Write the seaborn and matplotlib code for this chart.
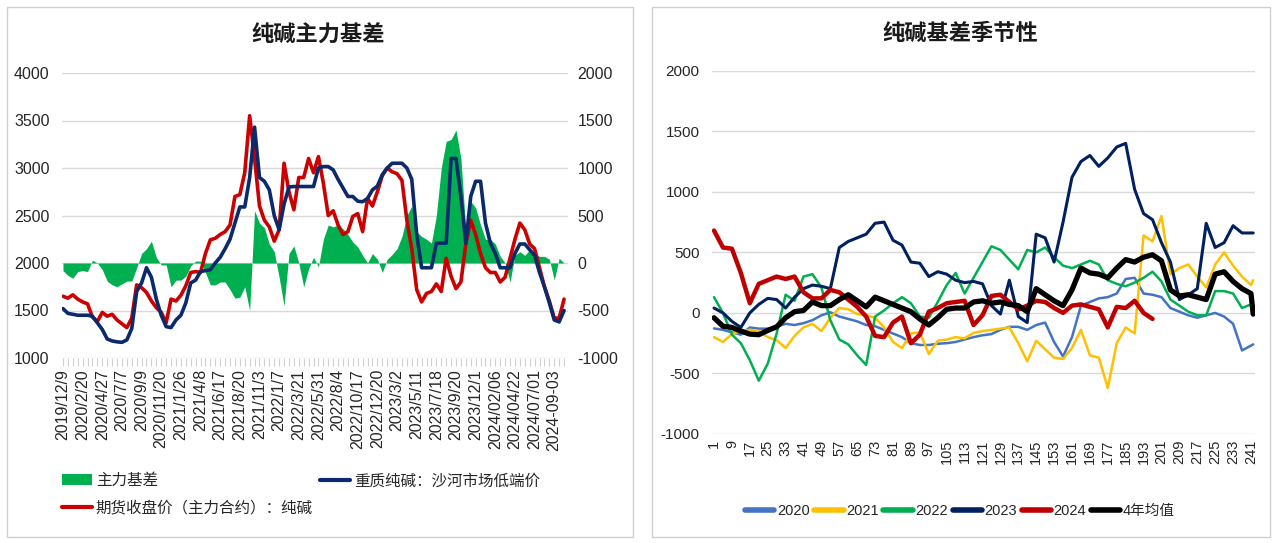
import numpy as np
import pandas as pd
import matplotlib
matplotlib.use("Agg")
import matplotlib.pyplot as plt
from matplotlib.patches import Rectangle
from matplotlib.lines import Line2D
from matplotlib.patches import Patch
import seaborn as sns

# ---------------- data: left chart (sampled trading-day points) ----------------
date_labels = ["2019/12/9", "2020/2/20", "2020/4/27", "2020/7/7", "2020/9/9", "2020/11/20",
               "2021/1/26", "2021/4/8", "2021/6/17", "2021/8/20", "2021/11/3", "2022/1/7",
               "2022/3/21", "2022/5/31", "2022/8/4", "2022/10/17", "2022/12/20", "2023/3/2",
               "2023/5/11", "2023/7/18", "2023/9/20", "2023/12/1", "2024/02/06", "2024/04/22",
               "2024/07/01", "2024-09-03"]

spot = [1520, 1470, 1460, 1450, 1450, 1450, 1440, 1370, 1300, 1200,
        1180, 1170, 1165, 1190, 1310, 1700, 1790, 1950, 1850, 1620,
        1450, 1330, 1320, 1400, 1450, 1580, 1790, 1820, 1910, 1920,
        1930, 2000, 2060, 2150, 2250, 2420, 2590, 2590, 2900, 3430,
        2900, 2860, 2770, 2500, 2350, 2620, 2800, 2805, 2805, 2805,
        2805, 2805, 3000, 3015, 3015, 2980, 2880, 2790, 2700, 2700,
        2650, 2645, 2680, 2770, 2810, 2930, 3000, 3050, 3050, 3050,
        3000, 2880, 2300, 1950, 1950, 1950, 2209, 2209, 2209, 3100,
        3100, 2700, 2209, 2700, 2860, 2860, 2420, 2209, 2100, 1950,
        1950, 1950, 2100, 2200, 2200, 2140, 2080, 1900, 1750, 1580,
        1400, 1380, 1500]

futures = [1650, 1630, 1665, 1620, 1590, 1570, 1430, 1385, 1480, 1440,
           1460, 1400, 1360, 1320, 1420, 1770, 1740, 1690, 1600, 1530,
           1480, 1370, 1620, 1600, 1660, 1760, 1900, 1910, 1900, 2100,
           2244, 2260, 2300, 2330, 2400, 2700, 2720, 2950, 3550, 3100,
           2600, 2450, 2380, 2230, 2350, 3050, 2750, 2560, 2900, 2900,
           3100, 2950, 3120, 2840, 2500, 2550, 2400, 2300, 2330, 2490,
           2520, 2330, 2680, 2600, 2750, 2920, 3000, 2960, 2940, 2870,
           2450, 2150, 1720, 1590, 1680, 1700, 1780, 1700, 2050, 1860,
           1730, 1800, 2200, 2450, 2300, 2100, 1950, 1900, 1900, 1800,
           1850, 2050, 2250, 2420, 2350, 2200, 2150, 1950, 1750, 1600,
           1420, 1420, 1620]

basis = [-80, -130, -160, -90, -80, -90, 30, 0, -70, -190,
         -230, -250, -220, -190, -190, -50, 100, 150, 230, 60,
         -20, -20, -250, -180, -180, -140, -30, 20, 20, -100,
         -230, -230, -200, -200, -280, -370, -360, -250, -500, 550,
         420, 370, 200, 120, -150, -450, 100, 180, 0, -250,
         -60, 60, -40, 250, 400, 380, 400, 360, 300, 220,
         170, 80, 0, 100, 40, -100, 40, 90, 150, 280,
         500, 600, 330, 280, 250, 210, 500, 1000, 1280, 1300,
         1400, 1100, 350, 650, 580, 400, 250, 250, 200, 70,
         0, -200, 80, 120, 80, 140, 100, 70, 70, 40,
         -180, 50, 0]

# ---------------- data: right chart (seasonal basis, sampled days) ----------------
days = [1, 5, 9, 13, 17, 21, 25, 29, 33, 37, 41, 45, 49, 53, 57, 61, 65, 69, 73, 77,
        81, 85, 89, 93, 97, 101, 105, 109, 113, 117, 121, 125, 129, 133, 137, 141, 145, 149,
        153, 157, 161, 165, 169, 173, 177, 181, 185, 189, 193, 197, 201, 205, 209, 213, 217,
        221, 225, 229, 233, 237, 241, 242]

y2020 = [-128, -140, -160, -180, -120, -130, -130, -115, -90, -100, -85, -60, -20, 5, -30, -50,
         -70, -100, -110, -140, -170, -200, -250, -265, -265, -255, -250, -240, -220, -200, -185,
         -175, -140, -115, -115, -140, -100, -80, -240, -360, -200, 60, 90, 120, 130, 160, 280,
         290, 160, 150, 130, 40, 10, -20, -40, -20, 0, -30, -90, -310, -270, -260]
y2021 = [-200, -240, -175, -150, -140, -150, -200, -225, -290, -190, -120, -90, -150, -40, 40, 30,
         -10, -20, -40, -120, -240, -290, -170, -160, -340, -230, -220, -200, -210, -165, -150,
         -140, -130, -120, -250, -400, -230, -300, -370, -380, -290, -140, -350, -370, -620, -250,
         -120, -170, 640, 590, 800, 320, 370, 400, 300, 210, 400, 500, 390, 300, 230, 270]
y2022 = [130, 0, -180, -250, -390, -560, -420, -170, 150, 100, 300, 320, 210, -60, -220, -260,
         -350, -430, -30, 20, 80, 130, 80, -30, -40, 90, 230, 330, 160, 290, 420, 550, 520, 440,
         360, 520, 500, 540, 460, 390, 370, 400, 430, 400, 270, 240, 220, 250, 290, 340, 260, 110,
         60, 10, -20, -20, 180, 180, 160, 40, 70, -10]
y2023 = [40, 0, -70, -120, 0, 70, 120, 110, 40, 130, 200, 230, 220, 200, 540, 590, 620, 650, 740,
         750, 600, 560, 420, 410, 300, 340, 320, 270, 250, 260, 240, 60, -10, 270, -30, -80, 650,
         620, 420, 750, 1120, 1250, 1300, 1210, 1280, 1370, 1400, 1020, 820, 770, 580, 420, 110,
         150, 200, 740, 540, 580, 720, 660, 660, 660]
days2024 = days[:50]
y2024 = [680, 540, 530, 330, 80, 240, 270, 300, 280, 300, 170, 120, 120, 190, 170, 110, 50, -30,
         -190, -200, -80, -30, -250, -180, 10, 40, 80, 90, 100, -100, -20, 140, 150, 90, 30, 60,
         100, 90, 40, 0, 60, 70, 50, 30, -120, 50, 40, 100, 0, -50]
yavg = [-40, -110, -120, -150, -175, -180, -145, -115, -40, 10, 20, 90, 60, 60, 110, 150, 100, 50,
        130, 100, 70, 40, 10, -50, -100, -40, 30, 40, 40, 90, 100, 80, 90, 70, 60, 10, 200, 150,
        100, 60, 190, 370, 330, 320, 290, 370, 440, 420, 460, 480, 430, 190, 140, 150, 130, 110,
        320, 340, 260, 200, 160, -10]
day_ticks = list(range(1, 242, 8))

# ---------------- styling ----------------
sns.set_theme(style="white")
plt.rcParams["font.family"] = ["Liberation Sans", "Noto Sans CJK SC"]
plt.rcParams["axes.unicode_minus"] = False

W, H = 1279, 543
fig = plt.figure(figsize=(W / 100, H / 100), dpi=100)
fig.patch.set_facecolor("white")

def fx(px):
    return px / W

def fy(py):
    return 1 - py / H

# panel borders
for (x0, y0, x1, y1) in [(7, 7, 633, 537), (652, 7, 1270, 537)]:
    fig.add_artist(Rectangle((fx(x0), fy(y1)), fx(x1 - x0), (y1 - y0) / H,
                             transform=fig.transFigure, fill=False,
                             edgecolor="#D0D0D0", linewidth=1.0))

GRID = "#D9D9D9"
TXT = "#262626"
NAVY = "#0B2A6B"
RED = "#CC0000"
GREEN = "#00B050"

# ---------------- left chart ----------------
axL = fig.add_axes([fx(62), fy(358), fx(568 - 62), (358 - 73) / H])
axR = axL.twinx()
idx = np.arange(len(spot))
dfL = pd.DataFrame({"i": idx, "spot": spot, "futures": futures, "basis": basis})

axR.fill_between(dfL["i"], 0, dfL["basis"], color=GREEN, linewidth=0)
axR.set_ylim(-1000, 2000)
axR.set_yticks(np.arange(-1000, 2001, 500))
axR.grid(axis="y", color=GRID, linewidth=1.0)
axR.set_axisbelow(True)

sns.lineplot(data=dfL, x="i", y="futures", ax=axL, color=RED, linewidth=2.6, legend=False)
sns.lineplot(data=dfL, x="i", y="spot", ax=axL, color=NAVY, linewidth=2.6, legend=False)
axL.set_zorder(axR.get_zorder() + 1)
axL.patch.set_visible(False)
axL.set_ylim(1000, 4000)
axL.set_yticks(np.arange(1000, 4001, 500))
axL.grid(False)
axL.set_xlim(-0.2, 102.8)
axL.set_xticks(np.arange(0, 4 * len(date_labels), 4))
axL.set_xticklabels(date_labels, rotation=90, fontsize=11.5, color=TXT)
axL.set_xticks(idx, minor=True)
axL.tick_params(axis="x", which="both", length=6, color="#CFCFCF", width=0.8, pad=2,
                bottom=True, direction="out")
axL.tick_params(axis="y", labelsize=11.5, labelcolor=TXT, length=0, pad=9)
axR.tick_params(axis="y", labelsize=11.5, labelcolor=TXT, length=0, pad=7)
axL.set_xlabel("")
axL.set_ylabel("")
axR.set_ylabel("")
for a in (axL, axR):
    for s in a.spines.values():
        s.set_visible(False)

fig.text(fx(318), fy(35), "纯碱主力基差", ha="center", va="center", fontsize=16,
         fontweight="bold", color="#1a1a1a", family=["Noto Sans CJK SC"])

hL = [Patch(facecolor=GREEN, edgecolor="none"),
      Line2D([], [], color=RED, linewidth=3),
      Line2D([], [], color=NAVY, linewidth=3)]
lL = ["主力基差", "期货收盘价（主力合约）：纯碱", "重质纯碱：沙河市场低端价"]
fig.legend(hL, lL, loc="upper left", bbox_to_anchor=(fx(56), fy(467)), ncol=2,
           frameon=False, fontsize=11.2, handlelength=1.9, handletextpad=0.25,
           labelspacing=0.8, columnspacing=0.5, borderaxespad=0, labelcolor=TXT)

# ---------------- right chart ----------------
ax3 = fig.add_axes([fx(712), fy(434), fx(1255 - 712), (434 - 70.7) / H])
series = [("2020", days, y2020, "#4472C4", 1.8),
          ("2021", days, y2021, "#FFC000", 1.8),
          ("2022", days, y2022, "#00B050", 1.8),
          ("2023", days, y2023, "#002060", 2.2),
          ("2024", days2024, y2024, "#C00000", 3.2),
          ("4年均值", days, yavg, "#000000", 3.8)]
for name, dx, dy, col, lw in series:
    d = pd.DataFrame({"day": dx, "v": dy})
    sns.lineplot(data=d, x="day", y="v", ax=ax3, color=col, linewidth=lw, legend=False)
ax3.set_ylim(-1000, 2000)
ax3.set_yticks(np.arange(-1000, 2001, 500))
ax3.set_xlim(0.1, 242.8)
ax3.set_xticks(day_ticks)
ax3.set_xticklabels([str(t) for t in day_ticks], rotation=90, fontsize=10.5, color=TXT)
ax3.grid(axis="y", color=GRID, linewidth=1.0)
ax3.set_axisbelow(True)
ax3.tick_params(axis="x", length=0, pad=4)
ax3.tick_params(axis="y", labelsize=11, labelcolor=TXT, length=0, pad=9)
ax3.set_xlabel("")
ax3.set_ylabel("")
for s in ax3.spines.values():
    s.set_visible(False)

fig.text(fx(960), fy(33), "纯碱基差季节性", ha="center", va="center", fontsize=16,
         fontweight="bold", color="#1a1a1a", family=["Noto Sans CJK SC"])

hR = [Line2D([], [], color=c, linewidth=4) for _, _, _, c, _ in series]
lR = [n for n, _, _, _, _ in series]
fig.legend(hR, lR, loc="center", bbox_to_anchor=(fx(960), fy(511)), ncol=6,
           frameon=False, fontsize=10.5, handlelength=2.0, handletextpad=0.2,
           columnspacing=0.3, labelcolor=TXT)

fig.savefig("out.png", dpi=100, facecolor="white")
